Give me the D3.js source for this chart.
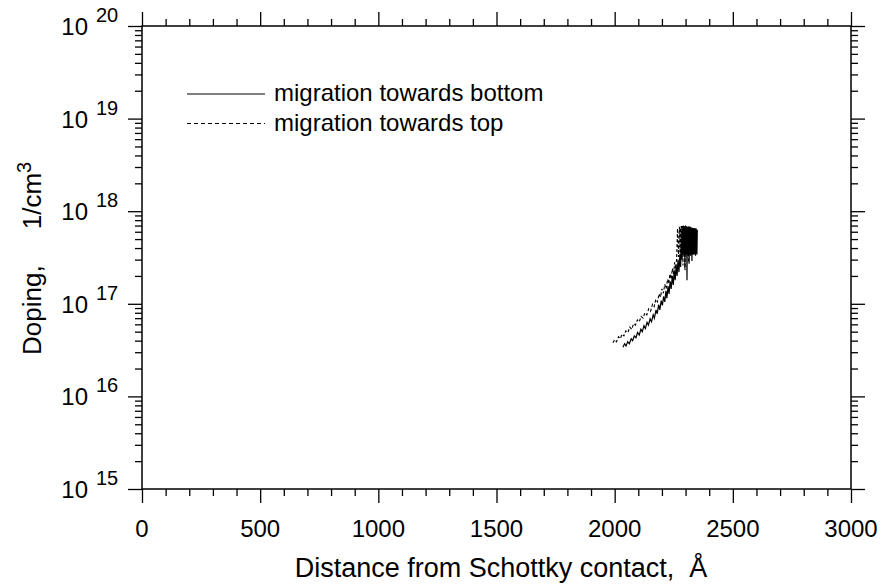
<!DOCTYPE html>
<meta charset="utf-8">
<style>
  body { margin: 0; background: #fff; }
  text { font-family: "Liberation Sans", Arial, sans-serif; fill: #000; white-space: pre; }
  .tick line { stroke: #000; stroke-width: 1.3; }
</style>
<body>
<script src="https://d3js.org/d3.v7.min.js"></script>
<script>
// distance (Angstrom) and doping (1/cm3), migration towards bottom
var bottomX = [2035, 2042, 2048, 2055, 2062, 2070, 2076, 2083, 2090, 2097, 2104, 2111, 2117, 2124, 2130, 2137, 2143, 2150, 2156, 2163, 2168, 2175, 2180, 2186, 2191, 2197, 2202, 2207, 2212, 2217, 2221, 2226, 2230, 2235, 2239, 2244, 2248, 2252, 2256, 2260, 2264, 2268, 2272, 2276, 2279, 2282,
  2285, 2286.5, 2288, 2289.5, 2291, 2292.5, 2294, 2295.5, 2297, 2298.5, 2300, 2301.5, 2303, 2304.5, 2306, 2307.5, 2309, 2310.5, 2312, 2313.5, 2315, 2316.5, 2318, 2319.5, 2321, 2322.5, 2324, 2325.5, 2327, 2328.5, 2330, 2331.5, 2333, 2334.5, 2336, 2337.5, 2339, 2340.5, 2342, 2343.5, 2345, 2346.5, 2348, 2349.5];
var bottomY = [3.4e16, 3.7e16, 3.5e16, 3.9e16, 3.7e16, 4.2e16, 4.0e16, 4.5e16, 4.3e16, 4.9e16, 4.6e16, 5.3e16, 5.0e16, 5.8e16, 5.4e16, 6.3e16, 5.9e16, 6.9e16, 6.4e16, 7.6e16, 7.0e16, 8.6e16, 7.8e16, 9.8e16, 8.6e16, 1.08e17, 9.6e16, 1.2e17, 1.05e17, 1.38e17, 1.15e17, 1.55e17, 1.28e17, 1.75e17, 1.45e17, 2.0e17, 1.6e17, 2.3e17, 1.8e17, 2.6e17, 2.0e17, 3.0e17, 2.2e17, 3.4e17, 2.5e17, 4.2e17,
  3.0e17, 6.5e17, 3.4e17, 6.8e17, 3.5e17, 6.6e17, 3.3e17, 6.7e17, 2.4e17, 6.6e17, 3.5e17, 6.8e17, 3.4e17, 6.5e17, 1.8e17, 6.6e17, 3.6e17, 6.7e17, 3.4e17, 6.5e17, 2.7e17, 6.6e17, 3.5e17, 6.4e17, 3.3e17, 6.6e17, 3.5e17, 6.5e17, 2.9e17, 6.4e17, 3.4e17, 6.5e17, 3.6e17, 6.3e17, 3.4e17, 6.4e17, 3.5e17, 6.3e17, 3.3e17, 6.4e17, 3.5e17, 6.2e17, 3.4e17, 6.3e17];

// migration towards top
var topX = [1993, 2000, 2008, 2016, 2024, 2031, 2039, 2047, 2056, 2064, 2072, 2080, 2088, 2096, 2104, 2112, 2120, 2128, 2136, 2144, 2152, 2160, 2167, 2174, 2181, 2188, 2194, 2200, 2206, 2212, 2218, 2224, 2229, 2234, 2239, 2244, 2249, 2254, 2258, 2262, 2266, 2270, 2274,
  2277, 2278.5, 2280, 2281.5, 2283, 2284.5, 2286, 2287.5, 2289, 2290.5, 2292, 2293.5, 2295, 2296.5, 2298, 2299.5, 2301, 2302.5, 2304, 2305.5, 2307, 2308.5, 2310, 2311.5, 2313, 2314.5, 2316, 2317.5, 2319, 2320.5, 2322, 2323.5, 2325, 2326.5, 2328, 2329.5, 2331, 2332.5, 2334, 2335.5, 2337, 2338.5, 2340, 2341.5, 2343, 2344.5, 2346];
var topY = [3.8e16, 4.1e16, 3.9e16, 4.4e16, 4.2e16, 4.7e16, 4.5e16, 5.1e16, 4.9e16, 5.6e16, 5.3e16, 6.1e16, 5.9e16, 6.7e16, 6.4e16, 7.3e16, 7.0e16, 8.0e16, 7.6e16, 8.8e16, 8.3e16, 9.9e16, 9.3e16, 1.12e17, 1.05e17, 1.28e17, 1.18e17, 1.45e17, 1.3e17, 1.62e17, 1.45e17, 1.85e17, 1.65e17, 2.1e17, 1.85e17, 2.4e17, 2.1e17, 2.8e17, 2.4e17, 3.0e17, 6.5e17, 3.2e17, 6.8e17,
  3.1e17, 6.6e17, 3.3e17, 6.9e17, 3.0e17, 7.0e17, 3.4e17, 6.9e17, 2.6e17, 7.0e17, 3.5e17, 6.8e17, 3.4e17, 6.9e17, 2.3e17, 7.0e17, 3.5e17, 6.8e17, 3.6e17, 6.9e17, 3.3e17, 6.7e17, 3.5e17, 6.8e17, 2.8e17, 6.9e17, 3.4e17, 6.7e17, 3.6e17, 6.8e17, 3.5e17, 6.6e17, 3.4e17, 6.7e17, 3.6e17, 6.6e17, 3.5e17, 6.7e17, 3.4e17, 6.5e17, 3.6e17, 6.6e17, 3.5e17, 6.5e17, 3.4e17, 6.6e17, 3.6e17];

var xMajor = [0, 500, 1000, 1500, 2000, 2500, 3000];
var yExponents = [15, 16, 17, 18, 19, 20];
var legendLabels = ["migration towards bottom", "migration towards top"];

var width = 883, height = 586;
var mLeft = 142, mRight = 851, mTop = 26, mBottom = 489;

var x = d3.scaleLinear().domain([0, 3000]).range([mLeft, mRight]);
var y = d3.scaleLog().domain([1e15, 1e20]).range([mBottom, mTop]);

var xMinor = d3.range(0, 3001, 100).filter(d => d % 500 !== 0);
var yMajor = yExponents.map(e => Math.pow(10, e));
var yMinor = [];
yExponents.slice(0, -1).forEach(e => {
  for (var k = 2; k <= 9; k++) yMinor.push(k * Math.pow(10, e));
});

var svg = d3.select("body").append("svg")
  .attr("width", width)
  .attr("height", height);

function addAxis(axis, values, size, tx, ty) {
  var g = svg.append("g")
    .attr("transform", "translate(" + tx + "," + ty + ")")
    .call(axis.tickValues(values).tickSize(size).tickFormat(""));
  g.select(".domain").remove();
}

// ticks on all four sides, pointing outwards
addAxis(d3.axisBottom(x), xMajor, 14, 0, mBottom);
addAxis(d3.axisBottom(x), xMinor, 7, 0, mBottom);
addAxis(d3.axisTop(x), xMajor, 14, 0, mTop);
addAxis(d3.axisTop(x), xMinor, 7, 0, mTop);
addAxis(d3.axisLeft(y), yMajor, 14, mLeft, 0);
addAxis(d3.axisLeft(y), yMinor, 7, mLeft, 0);
addAxis(d3.axisRight(y), yMajor, 14, mRight, 0);
addAxis(d3.axisRight(y), yMinor, 7, mRight, 0);

svg.append("rect")
  .attr("x", mLeft)
  .attr("y", mTop)
  .attr("width", mRight - mLeft)
  .attr("height", mBottom - mTop)
  .attr("fill", "none")
  .attr("stroke", "#000")
  .attr("stroke-width", 1.5);

// x tick labels
svg.append("g").selectAll("text")
  .data(xMajor)
  .join("text")
  .attr("x", d => x(d))
  .attr("y", 537)
  .attr("text-anchor", "middle")
  .style("font-size", "24px")
  .text(d => d);

// y tick labels as 10 with exponent
var yl = svg.append("g").selectAll("g")
  .data(yExponents)
  .join("g");
yl.append("text")
  .attr("x", 88)
  .attr("y", d => y(Math.pow(10, d)) + 9)
  .attr("text-anchor", "end")
  .style("font-size", "24px")
  .text("10");
yl.append("text")
  .attr("x", 96)
  .attr("y", d => y(Math.pow(10, d)) - 4)
  .style("font-size", "20px")
  .text(d => d);

// axis titles
svg.append("text")
  .attr("x", 501)
  .attr("y", 577)
  .attr("text-anchor", "middle")
  .style("font-size", "27px")
  .text("Distance from Schottky contact,  \u00C5");

var yt = svg.append("text")
  .attr("transform", "translate(41,355) rotate(-90)")
  .attr("text-anchor", "start")
  .style("font-size", "26px");
yt.append("tspan").text("Doping,     1/cm");
yt.append("tspan").attr("dy", -10).style("font-size", "20px").text("3");

// data
var line = d3.line().x(d => x(d[0])).y(d => y(d[1]));

svg.append("path")
  .datum(d3.zip(topX, topY))
  .attr("d", line)
  .attr("fill", "none")
  .attr("stroke", "#000")
  .attr("stroke-width", 1.1)
  .attr("stroke-dasharray", "3,2");

svg.append("path")
  .datum(d3.zip(bottomX, bottomY))
  .attr("d", line)
  .attr("fill", "none")
  .attr("stroke", "#000")
  .attr("stroke-width", 1.2);

// legend
var lg = svg.append("g").selectAll("g")
  .data(legendLabels)
  .join("g")
  .attr("transform", (d, i) => "translate(187," + (94 + i * 29.5) + ")");
lg.append("line")
  .attr("x1", 0)
  .attr("x2", 78)
  .attr("stroke", "#000")
  .attr("stroke-width", 1.2)
  .attr("stroke-dasharray", (d, i) => i ? "4,3" : null);
lg.append("text")
  .attr("x", 87)
  .attr("y", 7)
  .style("font-size", "24px")
  .text(d => d);
</script>
</body>
</html>
